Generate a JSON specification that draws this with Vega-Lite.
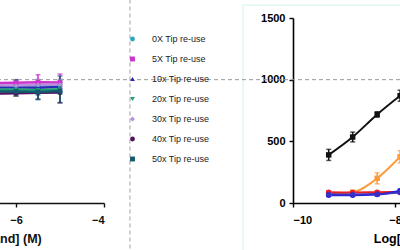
{
  "$schema": "https://vega.github.io/schema/vega-lite/v6.json",
  "width": 400,
  "height": 203,
  "autosize": "none",
  "padding": {"left": 0, "top": 0, "right": 0, "bottom": 47},
  "background": "white",
  "config": {
    "view": {"stroke": null},
    "font": "Liberation Sans",
    "axis": {
      "grid": false,
      "labelFont": "Liberation Sans",
      "labelFontWeight": "bold",
      "labelFontSize": 11,
      "labelColor": "#111",
      "titleFont": "Liberation Sans",
      "titleFontWeight": "bold",
      "titleFontSize": 12.5,
      "titleColor": "#111",
      "domainColor": "#111",
      "domainWidth": 1.6,
      "tickColor": "#111",
      "tickWidth": 1.4,
      "tickSize": 4
    },
    "axisX": {"labelPadding": 7, "titlePadding": 7},
    "legend": {
      "orient": "none",
      "legendX": 128,
      "legendY": 34.5,
      "padding": 0,
      "symbolSize": 24,
      "symbolOpacity": 1,
      "symbolStrokeWidth": 0,
      "labelFont": "Liberation Sans",
      "labelFontSize": 9,
      "labelColor": "#222",
      "labelOffset": 15,
      "rowPadding": 10
    }
  },
  "datasets": {
    "tipReuse": [
      {"series": "0X Tip re-use", "logConc": -6.5, "mean": 950, "lo": 905, "hi": 995},
      {"series": "0X Tip re-use", "logConc": -6.0, "mean": 948, "lo": 903, "hi": 993},
      {"series": "0X Tip re-use", "logConc": -5.5, "mean": 955, "lo": 910, "hi": 1000},
      {"series": "0X Tip re-use", "logConc": -5.0, "mean": 952, "lo": 907, "hi": 997},
      {"series": "5X Tip re-use", "logConc": -6.5, "mean": 972, "lo": 922, "hi": 1022},
      {"series": "5X Tip re-use", "logConc": -6.0, "mean": 975, "lo": 925, "hi": 1000},
      {"series": "5X Tip re-use", "logConc": -5.5, "mean": 980, "lo": 930, "hi": 1040},
      {"series": "5X Tip re-use", "logConc": -5.0, "mean": 978, "lo": 928, "hi": 1046},
      {"series": "10x Tip re-use", "logConc": -6.5, "mean": 935, "lo": 895, "hi": 975},
      {"series": "10x Tip re-use", "logConc": -6.0, "mean": 938, "lo": 898, "hi": 978},
      {"series": "10x Tip re-use", "logConc": -5.5, "mean": 935, "lo": 895, "hi": 975},
      {"series": "10x Tip re-use", "logConc": -5.0, "mean": 940, "lo": 900, "hi": 980},
      {"series": "20x Tip re-use", "logConc": -6.5, "mean": 918, "lo": 878, "hi": 958},
      {"series": "20x Tip re-use", "logConc": -6.0, "mean": 920, "lo": 880, "hi": 960},
      {"series": "20x Tip re-use", "logConc": -5.5, "mean": 915, "lo": 875, "hi": 955},
      {"series": "20x Tip re-use", "logConc": -5.0, "mean": 922, "lo": 882, "hi": 962},
      {"series": "30x Tip re-use", "logConc": -6.5, "mean": 955, "lo": 910, "hi": 1000},
      {"series": "30x Tip re-use", "logConc": -6.0, "mean": 952, "lo": 907, "hi": 997},
      {"series": "30x Tip re-use", "logConc": -5.5, "mean": 958, "lo": 913, "hi": 1003},
      {"series": "30x Tip re-use", "logConc": -5.0, "mean": 960, "lo": 915, "hi": 1005},
      {"series": "40x Tip re-use", "logConc": -6.5, "mean": 888, "lo": 838, "hi": 938},
      {"series": "40x Tip re-use", "logConc": -6.0, "mean": 890, "lo": 868, "hi": 940},
      {"series": "40x Tip re-use", "logConc": -5.5, "mean": 893, "lo": 843, "hi": 943},
      {"series": "40x Tip re-use", "logConc": -5.0, "mean": 895, "lo": 811, "hi": 945},
      {"series": "50x Tip re-use", "logConc": -6.5, "mean": 905, "lo": 845, "hi": 965},
      {"series": "50x Tip re-use", "logConc": -6.0, "mean": 905, "lo": 868, "hi": 1000},
      {"series": "50x Tip re-use", "logConc": -5.5, "mean": 900, "lo": 838, "hi": 962},
      {"series": "50x Tip re-use", "logConc": -5.0, "mean": 908, "lo": 815, "hi": 1030}
    ],
    "ligandResponse": [
      {"trace": "Ligand A", "logConc": -9.3, "mean": 390, "lo": 345, "hi": 435},
      {"trace": "Ligand A", "logConc": -8.83, "mean": 535, "lo": 495, "hi": 575},
      {"trace": "Ligand A", "logConc": -8.35, "mean": 718, "lo": 696, "hi": 740},
      {"trace": "Ligand A", "logConc": -7.9, "mean": 870, "lo": 825, "hi": 915},
      {"trace": "Ligand B", "logConc": -9.3, "mean": 75, "lo": 65, "hi": 85},
      {"trace": "Ligand B", "logConc": -8.83, "mean": 88, "lo": 76, "hi": 100},
      {"trace": "Ligand B", "logConc": -8.35, "mean": 200, "lo": 155, "hi": 245},
      {"trace": "Ligand B", "logConc": -7.9, "mean": 375, "lo": 325, "hi": 425},
      {"trace": "Ligand C", "logConc": -9.3, "mean": 88, "lo": 78, "hi": 98},
      {"trace": "Ligand C", "logConc": -8.83, "mean": 86, "lo": 78, "hi": 94},
      {"trace": "Ligand C", "logConc": -8.35, "mean": 88, "lo": 78, "hi": 98},
      {"trace": "Ligand C", "logConc": -7.9, "mean": 90, "lo": 80, "hi": 100},
      {"trace": "Ligand D", "logConc": -9.3, "mean": 62, "lo": 54, "hi": 70},
      {"trace": "Ligand D", "logConc": -8.83, "mean": 62, "lo": 54, "hi": 70},
      {"trace": "Ligand D", "logConc": -8.35, "mean": 68, "lo": 58, "hi": 78},
      {"trace": "Ligand D", "logConc": -7.9, "mean": 100, "lo": 88, "hi": 112},
      {"trace": "Ligand E", "logConc": -9.3, "mean": 70, "lo": 62, "hi": 78},
      {"trace": "Ligand E", "logConc": -8.83, "mean": 68, "lo": 60, "hi": 76},
      {"trace": "Ligand E", "logConc": -8.35, "mean": 72, "lo": 62, "hi": 82},
      {"trace": "Ligand E", "logConc": -7.9, "mean": 85, "lo": 75, "hi": 95}
    ]
  },
  "layer": [
    {
      "data": {"name": "tipReuse"},
      "layer": [
        {
          "data": {"values": [{}]},
          "mark": {"type": "rule", "strokeDash": [4, 3], "color": "#a0a0a0", "strokeWidth": 1},
          "encoding": {
            "x": {"datum": -3.41, "type": "quantitative"},
            "y": {"datum": 1650, "type": "quantitative"},
            "y2": {"datum": -400}
          }
        },
        {
          "mark": {"type": "errorbar", "ticks": {"size": 5}, "thickness": 1.5},
          "encoding": {
            "x": {"field": "logConc", "type": "quantitative"},
            "y": {"field": "lo", "type": "quantitative"},
            "y2": {"field": "hi"},
            "color": {"field": "series", "type": "nominal", "title": null}
          }
        },
        {
          "mark": {"type": "line", "strokeWidth": 2.5},
          "encoding": {
            "x": {"field": "logConc", "type": "quantitative"},
            "y": {"field": "mean", "type": "quantitative"},
            "color": {"field": "series", "type": "nominal", "title": null}
          }
        },
        {
          "mark": {"type": "point", "filled": true, "size": 22, "opacity": 1},
          "encoding": {
            "x": {
              "field": "logConc", "type": "quantitative",
              "scale": {"domain": [-9, -4], "range": [-116, 104], "nice": false, "zero": false},
              "axis": {"orient": "bottom", "values": [-10, -8, -6, -4], "format": "d", "title": "Log[Ligand] (M)"}
            },
            "y": {
              "field": "mean", "type": "quantitative",
              "scale": {"domain": [0, 1500], "range": [203, 18], "nice": false},
              "axis": null
            },
            "color": {
              "field": "series", "type": "nominal", "title": null,
              "scale": {
                "domain": ["0X Tip re-use", "5X Tip re-use", "10x Tip re-use", "20x Tip re-use", "30x Tip re-use", "40x Tip re-use", "50x Tip re-use"],
                "range": ["#2aa6bf", "#cc33cc", "#2b2bb5", "#1fa36f", "#bb8edb", "#53105e", "#135a6e"]
              }
            },
            "shape": {
              "field": "series", "type": "nominal", "title": null,
              "scale": {
                "domain": ["0X Tip re-use", "5X Tip re-use", "10x Tip re-use", "20x Tip re-use", "30x Tip re-use", "40x Tip re-use", "50x Tip re-use"],
                "range": ["circle", "square", "triangle-up", "triangle-down", "diamond", "circle", "square"]
              }
            }
          }
        }
      ]
    },
    {
      "data": {"name": "ligandResponse"},
      "layer": [
        {
          "data": {"values": [{}]},
          "mark": {"type": "rect", "fill": null, "stroke": "#def3f0", "strokeWidth": 1.2},
          "encoding": {
            "x": {"datum": -10.98, "type": "quantitative"},
            "x2": {"datum": -3},
            "y": {"datum": 1605, "type": "quantitative"},
            "y2": {"datum": -500}
          }
        },
        {
          "data": {"values": [{}]},
          "mark": {"type": "rule", "strokeDash": [4, 3], "color": "#9a9a9a", "strokeWidth": 1},
          "encoding": {
            "y": {"datum": 1000, "type": "quantitative"}
          }
        },
        {
          "mark": {"type": "errorbar", "ticks": {"size": 5}, "thickness": 1.5},
          "encoding": {
            "x": {"field": "logConc", "type": "quantitative"},
            "y": {"field": "lo", "type": "quantitative"},
            "y2": {"field": "hi"},
            "color": {"field": "trace", "type": "nominal", "legend": null}
          }
        },
        {
          "mark": {"type": "line", "strokeWidth": 2, "interpolate": "monotone"},
          "encoding": {
            "x": {"field": "logConc", "type": "quantitative"},
            "y": {"field": "mean", "type": "quantitative"},
            "color": {"field": "trace", "type": "nominal", "legend": null}
          }
        },
        {
          "mark": {"type": "point", "filled": true, "size": 30, "opacity": 1},
          "encoding": {
            "x": {
              "field": "logConc", "type": "quantitative",
              "scale": {"domain": [-10, -5], "range": [293, 548], "nice": false, "zero": false},
              "axis": {"orient": "bottom", "values": [-10, -8, -6], "format": "d", "title": "Log[Ligand] (M)", "domainColor": "#000", "tickColor": "#000", "labelColor": "#000", "titleColor": "#000"}
            },
            "y": {
              "field": "mean", "type": "quantitative",
              "scale": {"domain": [0, 1500], "range": [203, 18], "nice": false},
              "axis": {"orient": "left", "offset": -293, "values": [0, 500, 1000, 1500], "format": "d", "title": null, "labelPadding": 4, "domainColor": "#000", "tickColor": "#000", "labelColor": "#000"}
            },
            "color": {
              "field": "trace", "type": "nominal", "legend": null,
              "scale": {
                "domain": ["Ligand A", "Ligand B", "Ligand C", "Ligand D", "Ligand E"],
                "range": ["#111111", "#ff9a3c", "#ee1c25", "#1f1fe6", "#3a2fc0"]
              }
            },
            "shape": {
              "field": "trace", "type": "nominal", "legend": null,
              "scale": {
                "domain": ["Ligand A", "Ligand B", "Ligand C", "Ligand D", "Ligand E"],
                "range": ["square", "square", "circle", "circle", "circle"]
              }
            }
          }
        }
      ]
    }
  ],
  "resolve": {
    "scale": {"x": "independent", "y": "independent", "color": "independent", "shape": "independent"}
  }
}
